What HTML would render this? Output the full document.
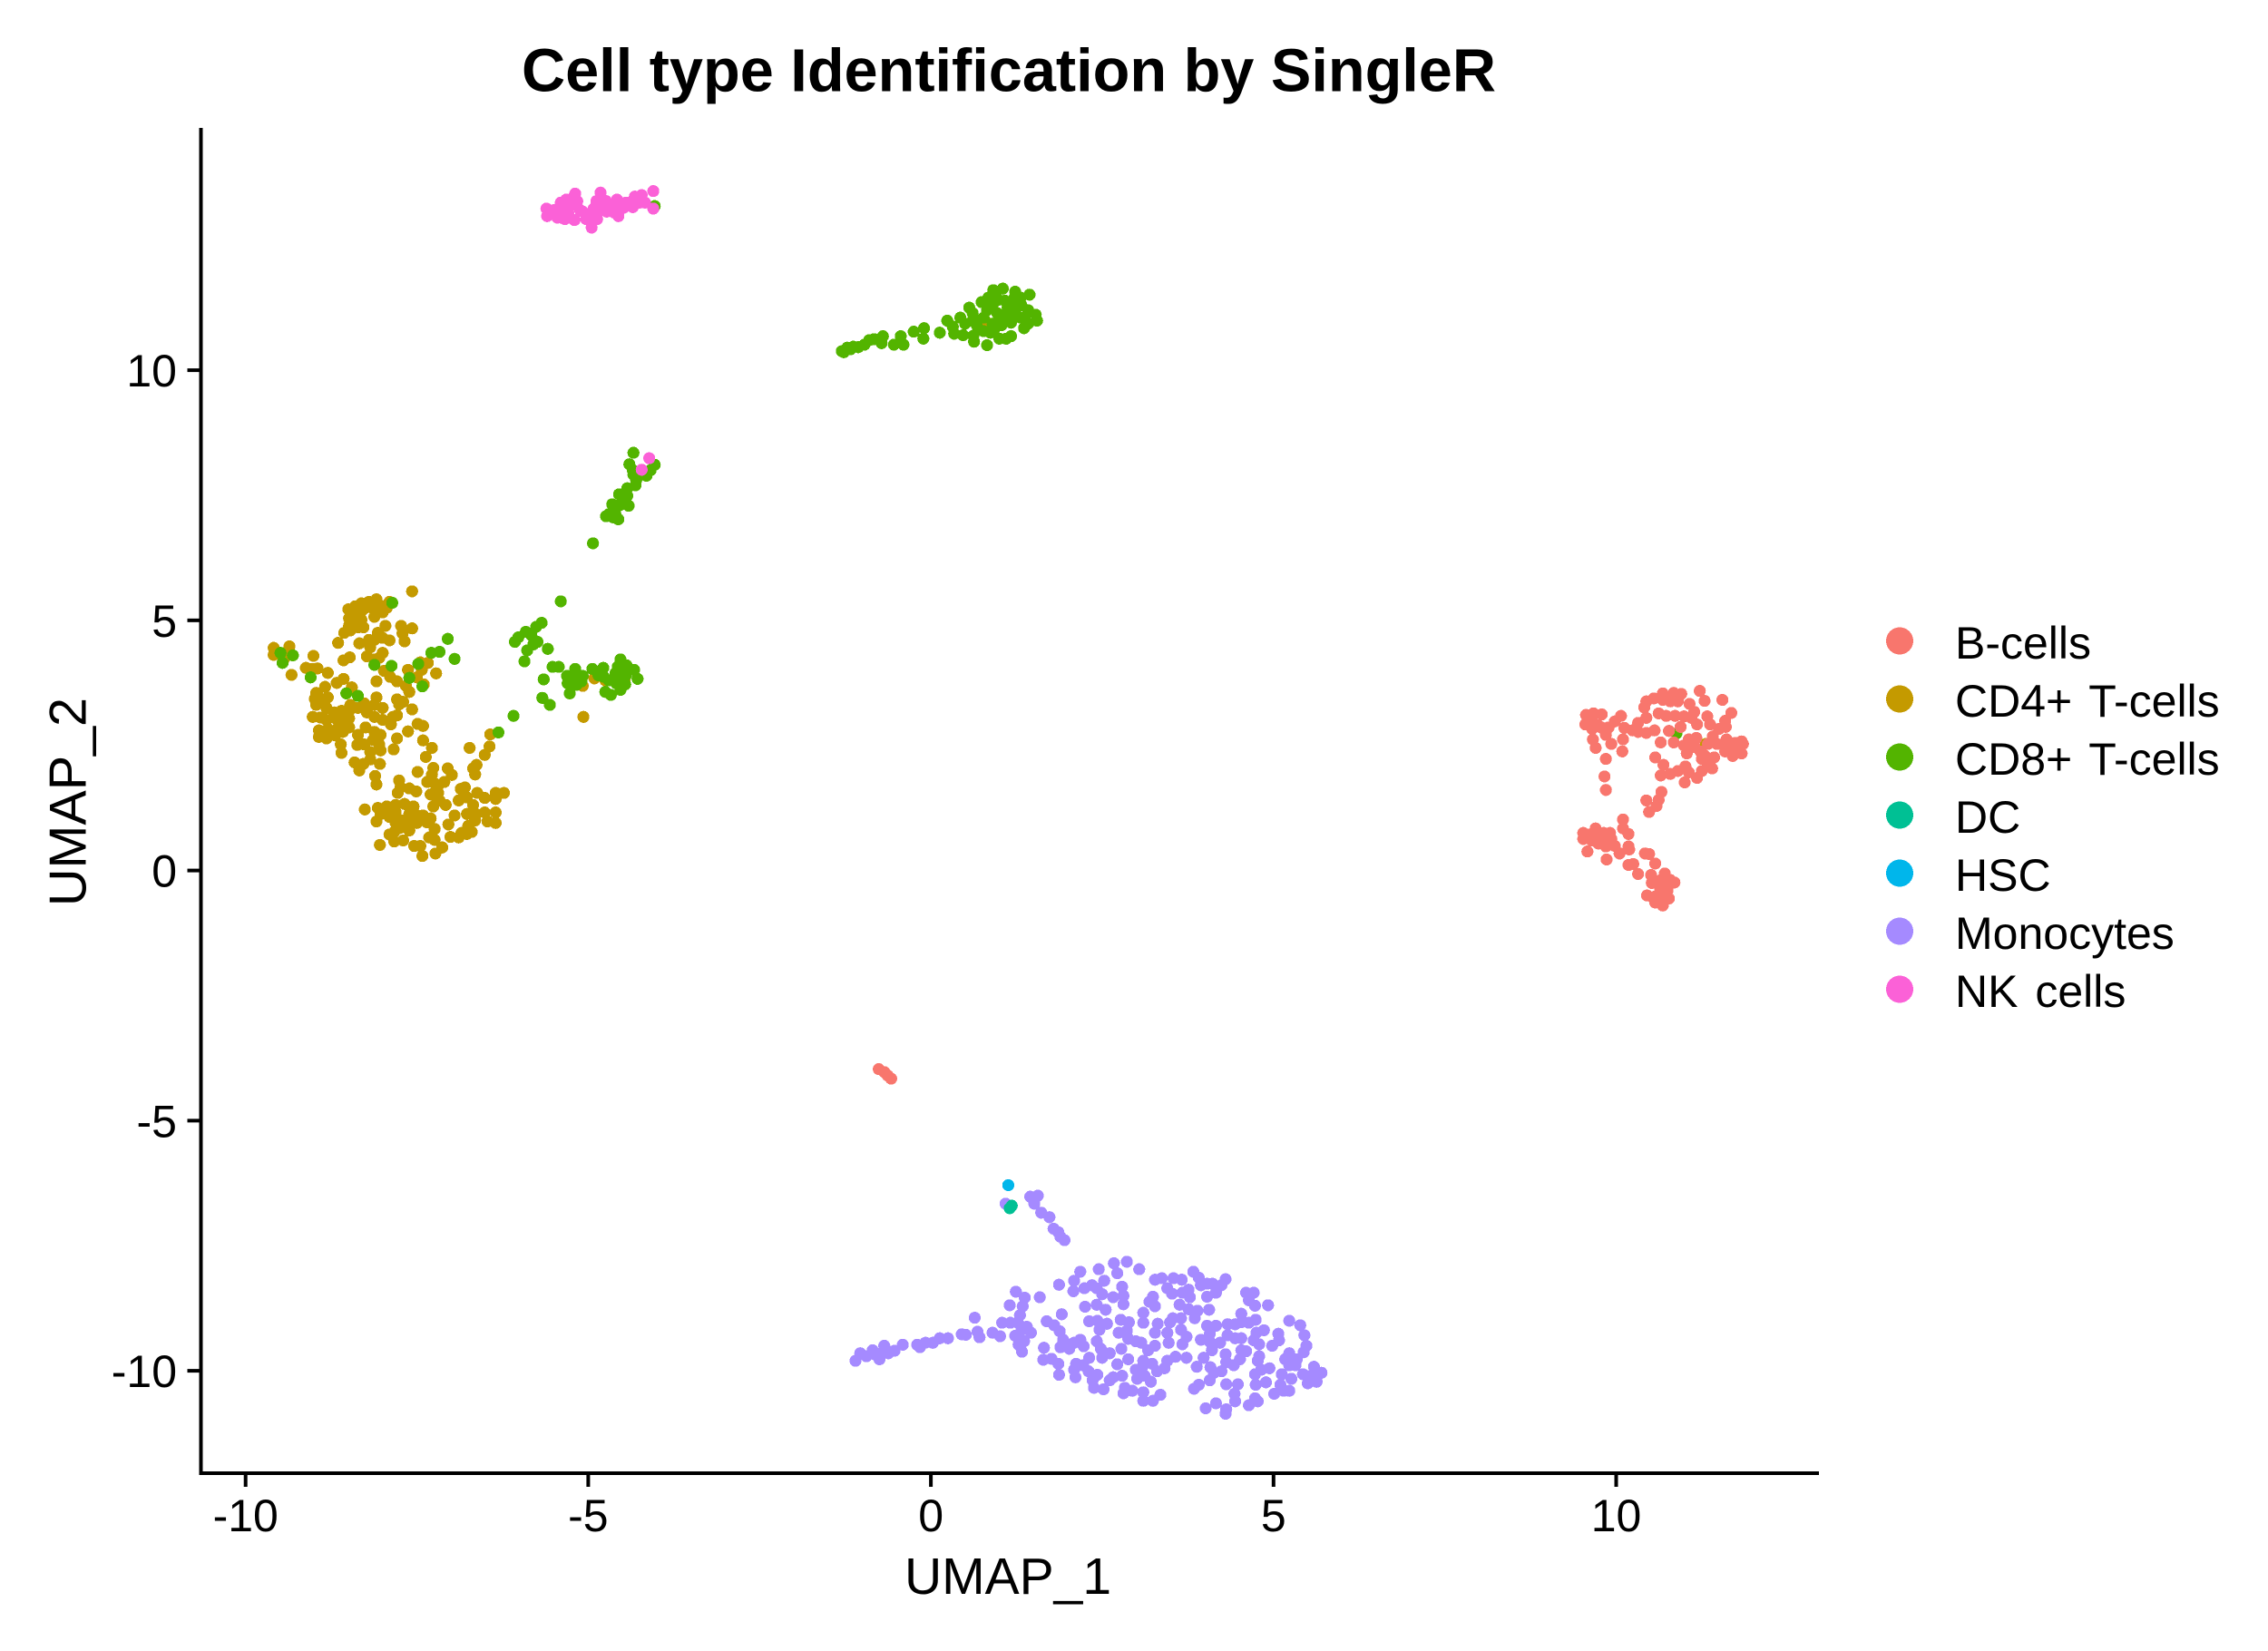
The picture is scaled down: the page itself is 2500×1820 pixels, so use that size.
<!DOCTYPE html>
<html lang="en">
<head>
<meta charset="utf-8">
<title>Cell type Identification by SingleR</title>
<style>
html,body{margin:0;padding:0;background:#fff;}
svg{display:block;}
text{font-family:"Liberation Sans",Arial,sans-serif;fill:#000;}
</style>
</head>
<body>
<svg id="chart" xmlns="http://www.w3.org/2000/svg" width="2500" height="1820" viewBox="0 0 2500 1820">
<rect x="0" y="0" width="2500" height="1820" fill="#fff"/>
<text x="1112" y="100.5" text-anchor="middle" font-size="66.67" font-weight="bold">Cell type Identification by SingleR</text>
<g id="points"></g>
<g id="axes"></g>
<text x="1111" y="1757" text-anchor="middle" font-size="57">UMAP_1</text>
<text x="0" y="0" transform="translate(94.5 884) rotate(-90)" text-anchor="middle" font-size="57.5">UMAP_2</text>
<g id="legend"></g>
</svg>
<script>
const xTicks = [-10, -5, 0, 5, 10];
const yTicks = [-10, -5, 0, 5, 10];
const legendLabels = ["B-cells", "CD4+ T-cells", "CD8+ T-cells", "DC", "HSC", "Monocytes", "NK cells"];

const cd4Cells = [[-7.57,5.58],[-7.9,5.37],[-8.09,5.42],[-8.2,5.37],[-8.31,5.34],[-8.4,5.28],[-8.5,5.22],[-8.49,5.04],[-8.36,5.13],[-8.49,4.89],[-8.36,4.86],[-8.28,4.86],[-8.42,4.98],[-8.12,5.07],[-8.0,5.16],[-7.94,5.25],[-8.05,5.31],[-8.25,5.25],[-8.31,5.01],[-8.56,4.75],[-8.47,4.8],[-7.96,4.89],[-8.07,4.75],[-7.73,4.89],[-7.71,4.74],[-7.68,4.58],[-7.57,4.84],[-8.0,4.65],[-7.9,4.6],[-8.12,4.61],[-8.2,4.61],[-8.34,4.54],[-8.65,4.55],[-8.18,4.46],[-8.23,4.28],[-8.12,4.22],[-8.0,4.35],[-8.05,4.25],[-8.48,4.26],[-8.57,4.2],[-9.01,4.29],[-9.59,4.45],[-9.59,4.31],[-9.36,4.48],[-9.44,4.34],[-9.44,4.23],[-9.12,4.05],[-8.95,4.04],[-9.03,4.03],[-8.8,3.95],[-9.33,3.91],[-8.57,3.83],[-8.67,3.75],[-8.45,3.66],[-8.09,3.78],[-7.98,3.99],[-7.89,3.87],[-7.79,3.78],[-7.66,3.69],[-7.61,3.57],[-7.63,4.01],[-7.5,3.86],[-7.43,4.01],[-7.34,4.15],[-7.45,4.16],[-7.22,3.94],[-7.4,3.72],[-7.79,3.42],[-7.7,3.37],[-7.76,3.32],[-7.57,3.22],[-8.09,3.46],[-8.12,3.31],[-8.0,3.25],[-7.79,3.1],[-7.85,3.07],[-7.88,2.92],[-8.0,3.01],[-8.12,3.07],[-8.97,3.55],[-8.84,3.67],[-8.99,3.43],[-8.97,3.31],[-8.8,3.46],[-8.86,3.37],[-8.82,3.25],[-8.71,3.16],[-8.47,3.31],[-8.36,3.25],[-8.27,3.34],[-8.23,3.16],[-8.6,3.19],[-8.49,3.19],[-9.02,3.07],[-8.91,3.06],[-8.82,3.01],[-8.62,2.98],[-8.49,3.04],[-8.49,2.86],[-8.93,2.8],[-8.8,2.83],[-8.93,2.67],[-8.82,2.64],[-8.69,2.7],[-8.58,2.77],[-8.61,2.52],[-8.6,2.35],[-8.25,2.86],[-8.36,2.71],[-8.37,2.51],[-8.27,2.52],[-8.12,2.77],[-8.03,2.71],[-8.14,2.61],[-8.05,2.52],[-8.03,2.4],[-8.18,2.37],[-8.18,2.22],[-8.41,2.16],[-8.28,2.13],[-8.04,2.13],[-8.34,2.0],[-8.11,1.89],[-8.09,1.72],[-7.79,2.64],[-7.84,2.42],[-7.63,2.78],[-7.49,2.93],[-7.41,2.89],[-7.41,2.6],[-7.28,2.45],[-7.37,2.27],[-7.49,1.97],[-7.26,2.05],[-7.05,2.04],[-6.99,1.91],[-7.28,1.92],[-7.35,1.77],[-7.24,1.74],[-7.1,1.77],[-7.3,1.52],[-7.19,1.55],[-7.26,1.28],[-7.08,1.31],[-7.17,1.4],[-7.76,1.8],[-7.78,1.55],[-7.74,1.66],[-7.61,1.64],[-7.51,1.58],[-8.26,1.22],[-8.07,1.25],[-7.94,1.28],[-7.81,1.31],[-7.68,1.33],[-7.55,1.28],[-8.09,0.98],[-8.03,1.13],[-7.9,1.07],[-7.81,1.16],[-7.81,0.95],[-7.61,1.13],[-7.63,0.95],[-7.5,1.1],[-7.41,1.1],[-7.3,1.04],[-7.35,0.96],[-7.61,0.8],[-7.9,0.72],[-7.83,0.77],[-7.83,0.58],[-7.7,0.6],[-8.04,0.51],[-7.54,0.49],[-7.45,0.49],[-7.42,0.29],[-7.24,0.83],[-7.32,0.66],[-7.24,0.61],[-7.13,0.46],[-7.23,0.34],[-7.01,0.67],[-6.89,0.66],[-6.77,0.73],[-6.7,0.77],[-7.04,0.92],[-6.95,1.1],[-6.75,0.89],[-6.77,1.13],[-6.64,1.13],[-6.51,1.16],[-6.35,1.16],[-6.47,0.98],[-6.35,0.95],[-6.68,1.31],[-6.89,1.4],[-6.77,1.46],[-6.62,1.55],[-6.51,1.45],[-6.86,1.63],[-6.8,1.66],[-6.35,1.55],[-6.23,1.55],[-6.35,1.43],[-6.63,2.11],[-6.68,2.04],[-6.65,1.92],[-6.51,2.31],[-6.44,2.48],[-6.73,2.45],[-6.43,2.72],[-4.91,3.84],[-5.08,3.69],[-4.75,3.8],[-4.47,3.8],[-5.07,3.07],[0.83,10.94],[11.31,2.53],[-8.4,5.1],[-8.3,5.2],[-8.15,5.25],[-8.43,5.15],[-8.9,3.4],[-8.95,3.5],[-8.7,3.05],[-8.55,3.1],[-8.75,2.75],[-8.65,2.85],[-7.2,1.65],[-7.2,1.45],[-7.7,1.0],[-7.75,0.85],[-7.5,0.95],[-6.65,1.0],[-6.85,0.75]];

const cd8Cells = [[-7.86,5.35],[-7.05,4.63],[-7.29,4.35],[-7.17,4.37],[-6.95,4.23],[-7.48,4.13],[-7.87,4.09],[-8.12,4.11],[-7.42,3.68],[-7.61,3.85],[-8.53,3.54],[-8.36,3.49],[-9.05,3.86],[-9.46,4.15],[-9.49,4.35],[-9.31,4.3],[-6.31,2.76],[-6.09,3.09],[-5.4,5.38],[-5.68,4.95],[-5.76,4.87],[-5.91,4.77],[-6.02,4.66],[-6.07,4.57],[-5.83,4.7],[-5.74,4.57],[-5.8,4.52],[-5.89,4.4],[-5.59,4.43],[-5.93,4.18],[-5.52,4.07],[-5.43,4.07],[-5.65,3.82],[-5.67,3.45],[-5.56,3.31],[-5.19,4.03],[-5.31,3.89],[-5.08,3.89],[-5.19,3.83],[-5.3,3.74],[-5.17,3.71],[-5.27,3.54],[-4.94,4.03],[-4.78,4.05],[-4.77,3.87],[-4.53,4.22],[-4.57,4.07],[-4.44,4.1],[-4.33,4.01],[-4.28,3.83],[-4.59,3.86],[-4.59,3.74],[-4.46,3.72],[-4.53,3.61],[-4.75,3.57],[-4.67,3.51],[-4.03,13.28],[-4.34,8.35],[-4.4,8.12],[-4.03,8.11],[-4.09,8.0],[-4.15,7.89],[-4.34,7.91],[-4.31,7.7],[-4.43,7.64],[-4.55,7.52],[-4.43,7.49],[-4.41,7.29],[-4.65,7.32],[-4.53,7.31],[-4.61,7.19],[-4.74,7.08],[-4.56,7.02],[-4.64,7.06],[-4.93,6.54],[-1.27,10.36],[-1.22,10.45],[-1.17,10.42],[-1.06,10.46],[-0.97,10.51],[-0.9,10.6],[-0.7,10.68],[-0.72,10.54],[-0.54,10.51],[-0.44,10.68],[-0.4,10.51],[-0.25,10.77],[-0.1,10.84],[-0.11,10.63],[0.13,10.75],[0.24,10.99],[0.32,10.87],[0.34,10.73],[0.47,10.7],[0.43,11.05],[0.56,11.25],[0.61,11.14],[0.5,10.93],[0.62,11.02],[0.62,10.69],[0.63,10.57],[0.82,10.5],[0.77,11.05],[0.77,10.78],[0.74,11.36],[0.84,11.45],[0.91,11.6],[0.9,11.3],[0.97,11.14],[1.08,11.05],[1.03,10.9],[0.9,10.93],[0.87,10.75],[1.0,10.63],[1.1,10.63],[1.17,10.68],[1.05,11.63],[1.08,11.39],[1.23,11.57],[1.18,11.36],[1.31,11.45],[1.44,11.51],[1.26,11.27],[1.42,11.2],[1.31,11.05],[1.53,11.11],[1.55,10.99],[1.42,10.93],[1.36,10.84],[0.95,11.48],[10.88,2.74],[0.97,11.4],[1.12,11.25],[1.02,11.0],[1.22,11.15],[1.17,10.95],[0.82,11.2],[1.32,11.3],[0.67,10.9],[0.92,10.8],[1.37,11.05],[1.22,11.45],[-1.3,10.38],[-1.13,10.47],[-0.83,10.62],[-4.5,7.4],[-4.6,7.1],[-4.3,7.8],[-4.35,8.0],[-4.2,7.95],[-4.7,7.12],[-5.25,3.75],[-5.1,3.78],[-4.85,3.9],[-4.7,3.8],[-4.6,3.95],[-4.45,3.9]];

const monocytes = [[1.09,-6.66],[1.45,-6.52],[1.56,-6.5],[1.51,-6.66],[1.61,-6.84],[1.73,-6.93],[1.79,-7.16],[1.86,-7.23],[1.89,-7.32],[1.95,-7.39],[-1.1,-9.8],[-1.03,-9.65],[-0.94,-9.71],[-0.85,-9.59],[-0.81,-9.68],[-0.75,-9.77],[-0.68,-9.5],[-0.7,-9.62],[-0.62,-9.65],[-0.53,-9.6],[-0.41,-9.48],[-0.2,-9.48],[-0.16,-9.53],[-0.08,-9.44],[0.03,-9.44],[0.13,-9.35],[0.25,-9.35],[0.45,-9.27],[0.51,-9.28],[0.68,-9.22],[0.71,-9.33],[0.64,-8.94],[0.9,-9.24],[1.01,-9.31],[1.24,-8.42],[1.37,-8.54],[1.15,-8.69],[1.34,-8.71],[1.3,-8.89],[1.04,-9.04],[1.16,-9.04],[1.27,-9.04],[1.4,-9.12],[1.46,-9.24],[1.32,-9.19],[1.23,-9.3],[1.36,-9.41],[1.28,-9.48],[1.33,-9.62],[1.59,-8.53],[1.87,-8.28],[1.91,-8.87],[1.65,-9.54],[1.64,-9.78],[1.76,-9.76],[1.86,-9.86],[1.87,-10.08],[2.18,-8.02],[2.09,-8.2],[2.08,-8.41],[2.24,-8.35],[2.35,-8.29],[2.45,-7.97],[2.53,-8.2],[2.5,-8.47],[2.42,-8.35],[2.67,-7.85],[2.86,-7.82],[2.72,-8.05],[3.04,-7.97],[2.79,-8.32],[2.81,-8.5],[2.66,-8.53],[2.81,-8.67],[2.25,-8.72],[2.42,-8.68],[2.55,-8.78],[2.31,-9.01],[2.43,-9.0],[2.57,-9.06],[2.46,-9.18],[2.77,-8.98],[2.89,-9.03],[2.86,-9.2],[2.74,-9.24],[2.88,-9.36],[2.99,-9.41],[3.07,-9.44],[3.1,-8.84],[3.1,-9.04],[3.19,-8.62],[3.24,-8.52],[3.27,-8.71],[3.31,-9.06],[3.27,-9.24],[3.27,-8.18],[3.37,-8.15],[3.54,-8.15],[3.66,-8.18],[3.45,-8.35],[3.52,-8.46],[3.83,-8.02],[3.91,-8.14],[3.94,-8.29],[3.67,-8.44],[3.78,-8.53],[3.76,-8.38],[4.03,-8.26],[4.11,-8.26],[4.3,-8.17],[4.24,-8.29],[4.03,-8.52],[4.16,-8.44],[3.63,-8.68],[3.76,-8.77],[3.89,-8.8],[4.06,-8.78],[3.85,-8.95],[3.53,-8.95],[3.65,-8.95],[3.49,-9.03],[3.65,-9.18],[3.73,-9.32],[3.67,-9.47],[3.45,-9.24],[3.47,-9.44],[4.03,-9.1],[4.16,-9.1],[4.07,-9.26],[3.94,-9.38],[4.07,-9.42],[4.22,-9.44],[4.1,-9.59],[4.33,-9.07],[4.44,-9.07],[4.33,-9.29],[4.44,-9.35],[4.53,-8.86],[4.53,-9.03],[4.64,-9.04],[4.74,-8.98],[4.6,-8.44],[4.71,-8.44],[4.64,-8.59],[4.73,-8.7],[4.92,-8.69],[4.53,-9.35],[4.86,-9.19],[4.75,-9.24],[4.71,-9.39],[4.79,-9.47],[4.98,-9.5],[5.07,-9.26],[5.08,-9.39],[5.23,-9.0],[5.39,-9.09],[5.45,-9.29],[5.48,-9.5],[5.44,-9.63],[5.23,-9.65],[5.17,-9.77],[5.34,-9.77],[5.32,-9.89],[5.23,-9.89],[4.79,-9.71],[4.77,-9.8],[5.59,-9.92],[5.7,-10.04],[5.43,-10.07],[5.54,-10.1],[5.5,-10.25],[5.63,-10.22],[5.12,-10.07],[5.1,-10.28],[5.26,-10.16],[5.23,-10.4],[5.01,-10.46],[5.15,-10.4],[4.94,-9.95],[4.82,-9.98],[4.73,-10.07],[4.74,-10.28],[4.89,-10.23],[4.73,-10.55],[4.77,-10.61],[4.64,-10.69],[4.31,-10.27],[4.48,-10.27],[4.43,-10.46],[4.44,-10.61],[4.31,-10.77],[4.3,-10.86],[4.16,-10.65],[4.01,-10.75],[3.84,-10.36],[3.91,-10.28],[4.07,-10.19],[4.13,-10.04],[4.24,-10.01],[4.08,-9.93],[3.98,-9.74],[3.88,-9.92],[3.73,-9.74],[4.3,-9.67],[4.31,-9.83],[4.42,-9.89],[4.53,-9.59],[4.6,-9.61],[4.51,-9.77],[3.57,-9.72],[3.45,-9.8],[3.41,-9.95],[3.3,-10.01],[3.23,-9.86],[3.1,-9.8],[3.1,-9.89],[3.17,-9.59],[3.27,-9.5],[2.99,-9.98],[3.01,-10.16],[3.12,-10.1],[3.21,-10.22],[3.1,-10.43],[3.1,-10.6],[3.24,-10.6],[3.35,-10.48],[2.83,-10.34],[2.81,-10.45],[2.94,-10.4],[2.88,-9.77],[2.72,-9.87],[2.79,-10.1],[2.66,-10.13],[2.61,-10.19],[2.78,-9.56],[2.42,-9.41],[2.48,-9.56],[2.61,-9.65],[2.5,-9.74],[2.31,-9.74],[2.22,-9.89],[2.12,-9.86],[2.09,-9.98],[2.11,-10.13],[2.3,-10.01],[2.43,-10.08],[2.36,-10.19],[2.38,-10.34],[2.52,-10.37],[1.69,-9.01],[1.8,-9.09],[1.88,-9.21],[1.93,-9.38],[1.89,-9.53],[2.02,-9.56],[2.09,-9.44],[2.18,-9.38],[2.23,-9.51]];

const dcCells = [[1.18,-6.7],[1.15,-6.75]];

const hscCells = [[1.13,-6.29]];

const nkCells = [[-5.6,13.08],[-5.61,13.23],[-5.5,13.2],[-5.39,13.05],[-5.37,13.23],[-5.32,13.41],[-5.19,13.53],[-5.16,13.38],[-5.26,13.29],[-5.29,13.14],[-5.2,13.0],[-5.08,13.17],[-5.03,13.02],[-4.95,12.85],[-4.87,13.02],[-4.92,13.23],[-4.88,13.38],[-4.82,13.55],[-4.74,13.38],[-4.73,13.17],[-4.58,13.41],[-4.53,13.23],[-4.56,13.08],[-4.45,13.35],[-4.35,13.26],[-4.32,13.47],[-4.22,13.5],[-4.17,13.35],[-4.05,13.58],[-4.05,13.23],[-5.45,13.14],[-5.34,13.02],[-4.11,8.24],[-4.22,8.01],[-5.55,13.15],[-5.45,13.05],[-5.28,13.25],[-5.22,13.45],[-5.12,13.2],[-4.98,13.1],[-4.8,13.2],[-4.65,13.3],[-4.62,13.15],[-4.48,13.25],[-4.4,13.35],[-4.25,13.35],[-5.4,13.35]];

const bCells = [[11.22,3.59],[11.29,3.39],[11.55,3.41],[11.68,3.15],[10.68,3.54],[10.84,3.55],[10.95,3.53],[10.9,3.38],[10.79,3.38],[10.68,3.41],[10.55,3.44],[10.44,3.38],[10.41,3.26],[10.44,3.05],[10.32,2.95],[11.07,3.33],[11.14,3.17],[10.62,3.14],[10.73,3.09],[10.86,3.09],[10.99,3.08],[11.1,3.05],[11.18,2.92],[10.94,2.87],[10.77,2.79],[11.33,3.08],[11.37,2.92],[11.5,2.83],[11.59,2.99],[11.6,2.87],[9.56,3.11],[9.67,3.14],[9.79,3.12],[9.55,2.92],[9.65,2.98],[9.65,2.83],[9.78,2.86],[9.85,2.71],[9.89,2.86],[9.98,2.98],[10.07,3.09],[10.12,2.85],[9.66,2.62],[9.7,2.45],[9.93,2.53],[10.1,2.62],[10.09,2.38],[9.85,2.23],[9.83,1.88],[9.85,1.61],[10.24,2.8],[10.32,2.77],[10.44,2.75],[10.56,2.8],[10.65,2.56],[10.84,2.56],[10.57,2.26],[10.69,2.11],[10.65,1.9],[10.79,1.93],[10.9,1.99],[11.01,2.08],[11.06,1.96],[11.0,1.76],[11.18,1.85],[11.25,1.99],[11.34,2.11],[11.4,2.04],[11.43,2.26],[11.25,2.23],[11.23,2.38],[11.03,2.34],[11.12,2.47],[10.99,2.5],[11.06,2.62],[11.17,2.65],[11.41,2.68],[11.47,2.53],[11.61,2.62],[11.59,2.38],[11.7,2.29],[11.72,2.47],[11.83,2.58],[11.85,2.53],[11.83,2.34],[11.34,2.53],[10.66,1.57],[10.62,1.41],[10.59,1.29],[10.44,1.4],[10.48,1.17],[10.1,1.02],[10.1,0.84],[10.18,0.73],[9.52,0.75],[9.52,0.63],[9.6,0.72],[9.7,0.84],[9.74,0.69],[9.82,0.75],[9.91,0.75],[9.93,0.63],[9.74,0.54],[9.85,0.48],[9.98,0.49],[9.58,0.38],[9.86,0.22],[10.05,0.34],[10.18,0.48],[10.19,0.42],[10.42,0.34],[10.48,0.33],[10.57,0.14],[10.18,0.11],[10.25,0.13],[10.32,-0.07],[10.51,-0.09],[10.52,-0.25],[10.71,-0.06],[10.79,-0.19],[10.85,-0.24],[10.68,-0.28],[10.75,-0.4],[10.45,-0.5],[10.57,-0.52],[10.57,-0.64],[10.7,-0.55],[10.77,-0.56],[10.68,-0.7],[-0.76,-3.97],[-0.68,-4.03],[-0.63,-4.1],[-0.58,-4.16],[10.64,-0.4],[10.64,-0.2],[10.74,-0.3],[10.54,-0.55],[9.64,0.6],[9.79,0.55],[9.84,0.65],[10.74,3.45],[10.89,3.45],[9.59,3.0],[9.74,2.9],[11.14,2.5],[11.29,2.3],[11.64,2.5],[11.74,2.55],[11.74,2.35]];

function xScale(v) { return 1026.1 + 75.54 * v; }
function yScale(v) { return 959.6 - 55.15 * v; }

const SVGNS = "http://www.w3.org/2000/svg";
const pointsLayer = document.getElementById("points");
const axesLayer = document.getElementById("axes");
const legendLayer = document.getElementById("legend");

function drawSeries(rows, colour, pointName) {
  rows.forEach(function (row) {
    const el = document.createElementNS(SVGNS, "circle");
    
    
    el.setAttribute("cx", xScale(row[0]));
    el.setAttribute("cy", yScale(row[1]));
    el.setAttribute("r", 6.6);
    el.setAttribute("fill", colour);
    el.setAttribute("shape-rendering", "crispEdges");
    pointsLayer.appendChild(el);
  });
}

drawSeries(cd4Cells, "#C49A00", "cd4-t-cell-point");
drawSeries(cd8Cells, "#53B400", "cd8-t-cell-point");
drawSeries(monocytes, "#A58AFF", "monocyte-point");
drawSeries(dcCells, "#00C094", "dc-point");
drawSeries(hscCells, "#00B6EB", "hsc-point");
drawSeries(nkCells, "#FB61D7", "nk-cell-point");
drawSeries(bCells, "#F8766D", "b-cell-point");

const axisLeft = 221.5;
const axisBottom = 1624;
const axisTop = 141;
const axisRight = 2005;

const yLine = document.createElementNS(SVGNS, "line");


yLine.setAttribute("x1", axisLeft);
yLine.setAttribute("x2", axisLeft);
yLine.setAttribute("y1", axisTop);
yLine.setAttribute("y2", axisBottom + 2);
yLine.setAttribute("stroke", "#000");
yLine.setAttribute("stroke-width", 4);
axesLayer.appendChild(yLine);

const xLine = document.createElementNS(SVGNS, "line");


xLine.setAttribute("x1", axisLeft - 2);
xLine.setAttribute("x2", axisRight);
xLine.setAttribute("y1", axisBottom);
xLine.setAttribute("y2", axisBottom);
xLine.setAttribute("stroke", "#000");
xLine.setAttribute("stroke-width", 4);
axesLayer.appendChild(xLine);

xTicks.forEach(function (t) {
  const tick = document.createElementNS(SVGNS, "line");
  
  
  tick.setAttribute("x1", xScale(t));
  tick.setAttribute("x2", xScale(t));
  tick.setAttribute("y1", axisBottom + 2);
  tick.setAttribute("y2", axisBottom + 15);
  tick.setAttribute("stroke", "#000");
  tick.setAttribute("stroke-width", 4);
  axesLayer.appendChild(tick);
  const label = document.createElementNS(SVGNS, "text");
  
  
  label.setAttribute("x", xScale(t));
  label.setAttribute("y", 1688);
  label.setAttribute("text-anchor", "middle");
  label.setAttribute("font-size", 50);
  label.textContent = String(t);
  axesLayer.appendChild(label);
});

yTicks.forEach(function (t) {
  const tick = document.createElementNS(SVGNS, "line");
  
  
  tick.setAttribute("x1", axisLeft - 15);
  tick.setAttribute("x2", axisLeft - 2);
  tick.setAttribute("y1", yScale(t));
  tick.setAttribute("y2", yScale(t));
  tick.setAttribute("stroke", "#000");
  tick.setAttribute("stroke-width", 4);
  axesLayer.appendChild(tick);
  const label = document.createElementNS(SVGNS, "text");
  
  
  label.setAttribute("x", 195);
  label.setAttribute("y", yScale(t) + 18);
  label.setAttribute("text-anchor", "end");
  label.setAttribute("font-size", 50);
  label.textContent = String(t);
  axesLayer.appendChild(label);
});

const legendColours = ["#F8766D", "#C49A00", "#53B400", "#00C094", "#00B6EB", "#A58AFF", "#FB61D7"];
legendLabels.forEach(function (name, i) {
  const cy = 706.5 + 64 * i;
  const key = document.createElementNS(SVGNS, "circle");
  
  
  key.setAttribute("cx", 2094);
  key.setAttribute("cy", cy);
  key.setAttribute("r", 15);
  key.setAttribute("fill", legendColours[i]);
  key.setAttribute("shape-rendering", "crispEdges");
  legendLayer.appendChild(key);
  const label = document.createElementNS(SVGNS, "text");
  
  
  label.setAttribute("x", 2155);
  label.setAttribute("y", cy + 19.5);
  label.setAttribute("font-size", 50);
  label.setAttribute("word-spacing", 5);
  label.textContent = name;
  legendLayer.appendChild(label);
});
</script>
</body>
</html>
